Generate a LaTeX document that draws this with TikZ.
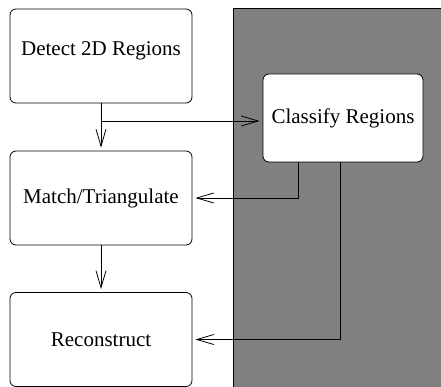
\documentclass[tikz,border=0pt]{standalone}
\usepackage{fontspec}
\setmainfont{Liberation Serif}
\usetikzlibrary{arrows.meta}
\tikzset{every picture/.style={line width=0.8pt}}
\tikzset{
    stagebox/.style={draw, rounded corners=6pt, fill=white, minimum width=182pt, minimum height=94pt, inner sep=0pt, font=\fontsize{21}{25}\selectfont},
    flowarr/.style={-{Straight Barb[length=17pt,width=10pt]}, shorten >=3pt}
}

\begin{document}
\begin{tikzpicture}[x=1pt,y=1pt,yscale=-1,xscale=1]
    \useasboundingbox (0,0) rectangle (441,387);
    
    %Shape: Rectangle (shaded panel)
    \draw [fill={rgb, 255:red, 128; green, 128; blue, 128 }] (233.5,8.5) rectangle (445,392);
    
    % Boxes
    \node [stagebox, text depth=14pt] (detect) at (101,56) {Detect 2D Regions};
    \node [stagebox] (match) at (101,198) {Match/Triangulate};
    \node [stagebox] (recon) at (101,339.5) {Reconstruct};
    \node [stagebox, minimum width=160pt, minimum height=88pt] (classify) at (343,118) {Classify Regions};
    
    \coordinate (split) at (detect.south |- 0,121);
    \coordinate (cdrop1) at (298,0);
    \coordinate (cdrop2) at (340,0);
    
    %Straight Lines
    \draw [flowarr] (detect.south) -- (match.north);
    \draw [flowarr] (split) -- (split -| classify.west);
    \draw [flowarr] (match.south) -- (recon.north);
    \draw [flowarr] (cdrop1 |- classify.south) -- (cdrop1 |- match.east) -- (match.east);
    \draw [flowarr] (cdrop2 |- classify.south) -- (cdrop2 |- recon.east) -- (recon.east);
\end{tikzpicture}
\end{document}
